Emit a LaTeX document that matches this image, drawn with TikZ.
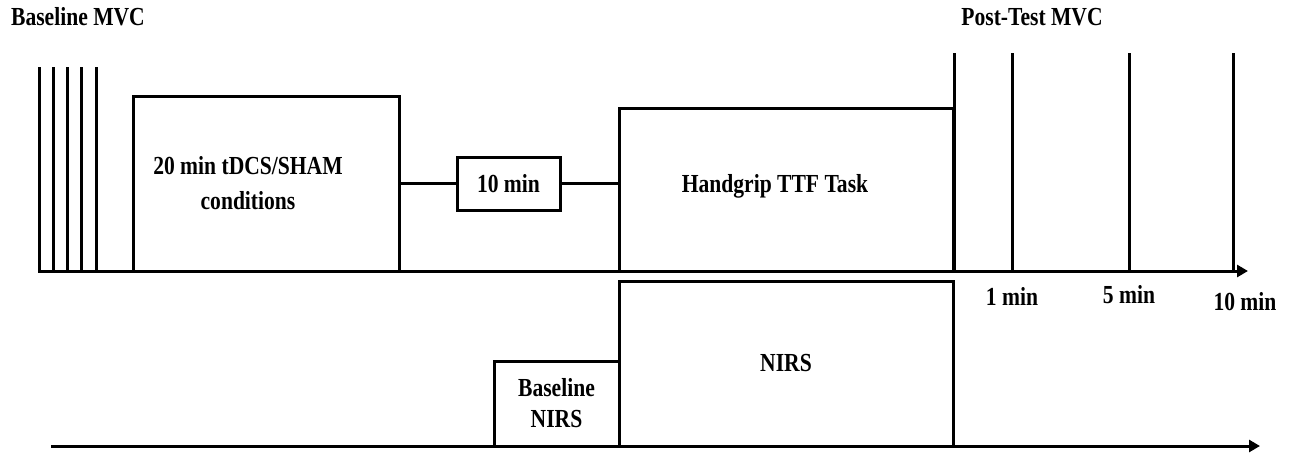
\documentclass[tikz,border=0pt]{standalone}
\usepackage{fontspec}
\setmainfont{Liberation Serif}[FakeStretch=0.83]
\usepackage{tikz}
\usetikzlibrary{arrows.meta,positioning,calc}
\tikzset{
  stage/.style={rectangle, draw=black, line width=3pt, fill=white, inner sep=0pt},
  lbl/.style={font=\bfseries\fontsize{26}{31}\selectfont, inner sep=0pt, align=center},
  tick/.style={line width=3pt},
  timeline/.style={line width=3pt, -{Triangle[length=11pt,width=12pt]}},
  link/.style={line width=3pt}
}

\begin{document}
\begin{tikzpicture}[x=1pt,y=-1pt]
  \useasboundingbox (0,0) rectangle (1291,455);

  % time axes
  \coordinate (ax0) at (38,271);
  \coordinate (ax1) at (1248,271);
  \coordinate (bx0) at (51,446);
  \coordinate (bx1) at (1260,446);

  % baseline MVC trials
  \foreach \x [count=\i] in {39,53,67,81,96} {
    \coordinate (mvc\i) at (\x,67);
    \draw[tick] (mvc\i) -- (mvc\i |- ax0);
  }
  \node[lbl] (premvc) at (78,17) {Baseline MVC};

  % protocol blocks
  \node[stage, minimum width=266pt, minimum height=175pt] (tdcs) at (266,183.5) {};
  \node[lbl, font=\bfseries\fontsize{26}{35}\selectfont] (tdcstxt) at (248,183) {20 min tDCS/SHAM\\conditions};
  \node[stage, minimum width=103pt, minimum height=53pt, lbl] (rest) at (508.5,183.5) {10 min};
  \node[stage, minimum width=334pt, minimum height=163pt] (task) at (786,189.5) {};
  \node[lbl] (tasktxt) at (775,186) {Handgrip TTF Task};
  \draw[link] (tdcs.east |- rest.west) -- (rest.west);
  \draw[link] (rest.east) -- (rest.east -| task.west);

  % post-test MVC trials
  \foreach \x [count=\i] in {954,1012,1129,1233} {
    \coordinate (post\i) at (\x,53);
    \draw[tick] (post\i) -- (post\i |- ax0);
  }
  \node[lbl] (postmvc) at (1032,17) {Post-Test MVC};
  \node[lbl] (t1) at (1012,296) {1 min};
  \node[lbl] (t5) at (1129,295) {5 min};
  \node[lbl] (t10) at (1245,302) {10 min};

  \draw[timeline] (ax0) -- (ax1);

  % NIRS recording
  \node[stage, minimum width=334pt, minimum height=165pt, lbl] (nirs) at (786,363.5) {NIRS};
  \node[stage, minimum width=125pt, minimum height=85pt, lbl] (basenirs) at (556.5,403.5) {Baseline\\NIRS};
  \draw[timeline] (bx0) -- (bx1);
\end{tikzpicture}
\end{document}
